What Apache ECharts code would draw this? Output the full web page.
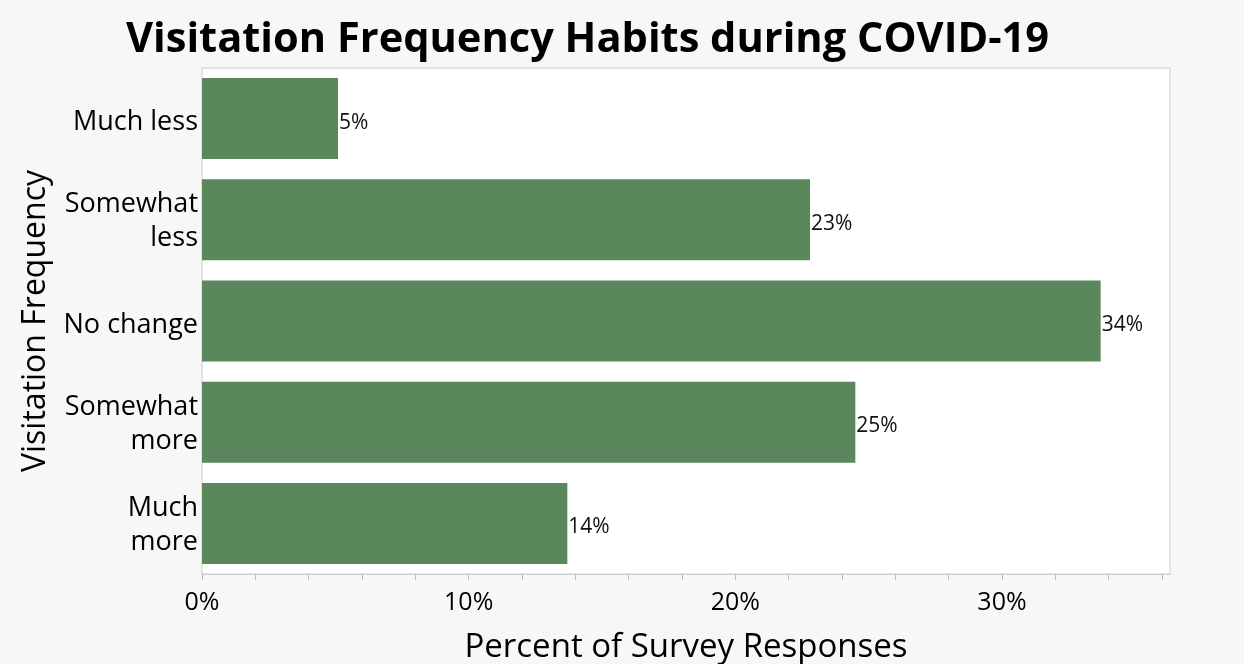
<!DOCTYPE html>
<html>
<head>
<meta charset="utf-8">
<script src="https://cdn.jsdelivr.net/npm/echarts@6/dist/echarts.min.js"></script>
<style>
  html, body { margin: 0; padding: 0; background: #f7f7f7; }
  #chart { width: 1244px; height: 664px; }
</style>
</head>
<body>
<div id="chart"></div>
<script>
// categories, top to bottom
var categories = ['Much less', 'Somewhat\nless', 'No change', 'Somewhat\nmore', 'Much\nmore'];
// percent of survey responses
var percents = [5.1, 22.8, 33.7, 24.5, 13.7];
// x axis ticks / labels
var tickValues = [0, 2, 4, 6, 8, 10, 12, 14, 16, 18, 20, 22, 24, 26, 28, 30, 32, 34, 36];
var labelValues = [0, 10, 20, 30];

var chart = echarts.init(document.getElementById('chart'));
var font = '"Open Sans", "Noto Sans", sans-serif';

var option = {
  backgroundColor: '#f7f7f7',
  textStyle: { fontFamily: font },
  title: {
    text: 'Visitation Frequency Habits during COVID-19',
    left: 121,
    top: 14,
    textStyle: { fontFamily: font, fontWeight: 'bold', fontSize: 41.6, color: '#000' }
  },
  grid: {
    left: 202, right: 74, top: 68, bottom: 90,
    outerBoundsMode: 'none',
    show: true,
    backgroundColor: '#fff',
    borderColor: '#cccccc',
    borderWidth: 1
  },
  xAxis: {
    type: 'value',
    min: 0,
    max: 36.3,
    interval: 10,
    name: 'Percent of Survey Responses',
    nameLocation: 'middle',
    nameGap: 57,
    nameTextStyle: { fontSize: 33, color: '#000' },
    splitLine: { show: false },
    axisLine: { show: true, lineStyle: { color: '#cccccc' } },
    axisTick: {
      show: true, length: 6,
      customValues: tickValues,
      lineStyle: { color: '#bbbbbb' }
    },
    axisLabel: {
      customValues: labelValues,
      fontSize: 25, color: '#000', margin: 16,
      formatter: function (v) { return v + '%'; }
    }
  },
  yAxis: {
    type: 'category',
    data: categories,
    inverse: true,
    name: 'Visitation Frequency',
    nameLocation: 'middle',
    nameRotate: 90,
    nameGap: 150,
    nameTextStyle: { fontSize: 32, color: '#000' },
    axisLine: { show: false },
    axisTick: { show: false },
    axisLabel: {
      margin: 4, align: 'right',
      // first line padded on top so the block sits a little lower
      formatter: function (v) {
        var lines = v.split('\n');
        return lines.map(function (s, i) { return (i === 0 ? '{p|' : '{a|') + s + '}'; }).join('\n');
      },
      rich: {
        p: { fontSize: 27, color: '#000', lineHeight: 38, padding: [8, 0, 0, 0], fontFamily: font },
        a: { fontSize: 27, color: '#000', lineHeight: 38, fontFamily: font }
      }
    }
  },
  series: [{
    type: 'bar',
    data: percents,
    barCategoryGap: '20%',
    itemStyle: { color: '#5b875c' },
    label: {
      show: true,
      position: 'right',
      distance: 1,
      offset: [0, 4],
      fontSize: 21,
      color: '#111',
      formatter: function (p) { return Math.round(p.value) + '%'; }
    }
  }]
};
chart.setOption(option);
</script>
</body>
</html>
